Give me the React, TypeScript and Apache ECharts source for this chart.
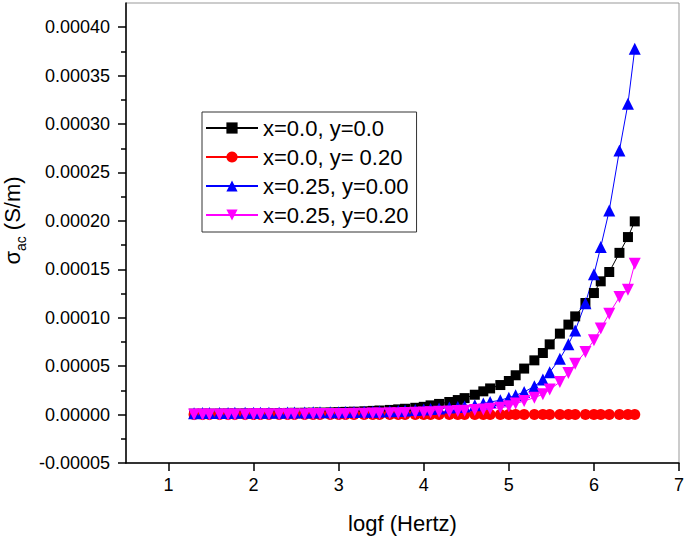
import React, { useEffect, useRef } from 'react';
import * as echarts from 'echarts';

// log10 of measurement frequency (20 Hz ... 3 MHz)
const logf = [
  1.30, 1.40, 1.48, 1.60, 1.70, 1.78, 1.90,
  2.00, 2.08, 2.18, 2.30, 2.40, 2.48, 2.60, 2.70, 2.78, 2.90,
  3.00, 3.08, 3.18, 3.30, 3.40, 3.48, 3.60, 3.70, 3.78, 3.90,
  4.00, 4.08, 4.18, 4.30, 4.40, 4.48, 4.60, 4.70, 4.78, 4.90,
  5.00, 5.08, 5.18, 5.30, 5.40, 5.48, 5.60, 5.70, 5.78, 5.90,
  6.00, 6.08, 6.18, 6.30, 6.40, 6.48,
];

const seriesNames = ['x=0.0, y=0.0', 'x=0.0, y= 0.20', 'x=0.25, y=0.00', 'x=0.25, y=0.20'];

const sigmaA = [
  0.9e-6, 1.0e-6, 1.0e-6, 1.1e-6, 1.2e-6, 1.2e-6, 1.3e-6,
  1.4e-6, 1.4e-6, 1.5e-6, 1.6e-6, 1.7e-6, 1.8e-6, 1.9e-6, 2.0e-6, 2.1e-6, 2.3e-6,
  2.5e-6, 2.8e-6, 3.0e-6, 3.4e-6, 3.8e-6, 4.2e-6, 4.8e-6, 5.4e-6, 6.0e-6, 7.0e-6,
  8.0e-6, 9.5e-6, 11.0e-6, 13.0e-6, 15.0e-6, 17.0e-6, 20.5e-6, 24.0e-6, 27.0e-6, 30.5e-6,
  34.7e-6, 40.6e-6, 47.5e-6, 56.0e-6, 63.6e-6, 72.5e-6, 83.6e-6, 92.9e-6, 101.4e-6, 115.2e-6,
  125.5e-6, 137.6e-6, 147.2e-6, 167.0e-6, 183.3e-6, 199.5e-6,
];

const sigmaB = [
  0.1e-6, 0.1e-6, 0.1e-6, 0.1e-6, 0.1e-6, 0.1e-6, 0.1e-6,
  0.1e-6, 0.1e-6, 0.1e-6, 0.1e-6, 0.1e-6, 0.1e-6, 0.1e-6, 0.1e-6, 0.1e-6, 0.1e-6,
  0.1e-6, 0.1e-6, 0.1e-6, 0.1e-6, 0.1e-6, 0.1e-6, 0.1e-6, 0.1e-6, 0.1e-6, 0.1e-6,
  0.1e-6, 0.1e-6, 0.1e-6, 0.1e-6, 0.1e-6, 0.1e-6, 0.1e-6, 0.1e-6, 0.1e-6, 0.1e-6,
  0.1e-6, 0.1e-6, 0.1e-6, 0.1e-6, 0.1e-6, 0.1e-6, 0.1e-6, 0.1e-6, 0.1e-6, 0.1e-6,
  0.1e-6, 0.1e-6, 0.1e-6, 0.1e-6, 0.1e-6, 0.1e-6,
];

const sigmaC = [
  1.5e-6, 1.6e-6, 1.6e-6, 1.7e-6, 1.7e-6, 1.8e-6, 1.8e-6,
  1.9e-6, 1.9e-6, 2.0e-6, 2.0e-6, 2.1e-6, 2.1e-6, 2.2e-6, 2.3e-6, 2.3e-6, 2.4e-6,
  2.5e-6, 2.6e-6, 2.7e-6, 2.9e-6, 3.0e-6, 3.2e-6, 3.5e-6, 3.8e-6, 4.1e-6, 4.6e-6,
  5.2e-6, 5.8e-6, 6.4e-6, 7.2e-6, 7.8e-6, 8.4e-6, 9.6e-6, 11.4e-6, 13.0e-6, 14.8e-6,
  17.5e-6, 19.9e-6, 23.3e-6, 29.2e-6, 36.1e-6, 43.7e-6, 57.7e-6, 72.5e-6, 86.8e-6, 115.0e-6,
  144.8e-6, 173.0e-6, 210.8e-6, 272.7e-6, 321.0e-6, 377.7e-6,
];

const sigmaD = [
  0.1e-6, 0.1e-6, 0.1e-6, 0.2e-6, 0.2e-6, 0.2e-6, 0.2e-6,
  0.3e-6, 0.3e-6, 0.3e-6, 0.3e-6, 0.4e-6, 0.4e-6, 0.4e-6, 0.5e-6, 0.5e-6, 0.5e-6,
  0.6e-6, 0.7e-6, 0.8e-6, 0.9e-6, 1.0e-6, 1.1e-6, 1.3e-6, 1.5e-6, 1.7e-6, 2.0e-6,
  2.2e-6, 2.5e-6, 2.8e-6, 3.2e-6, 3.6e-6, 4.0e-6, 4.6e-6, 5.2e-6, 6.0e-6, 7.0e-6,
  8.6e-6, 11.4e-6, 14.0e-6, 17.5e-6, 20.9e-6, 25.8e-6, 33.6e-6, 42.9e-6, 52.6e-6, 64.6e-6,
  76.7e-6, 88.8e-6, 104.2e-6, 121.4e-6, 129.0e-6, 155.8e-6,
];

const xTicks = [1, 2, 3, 4, 5, 6, 7];
const xMinorTicks = [1.5, 2.5, 3.5, 4.5, 5.5, 6.5];
const yTicks = [-0.00005, 0, 0.00005, 0.0001, 0.00015, 0.0002, 0.00025, 0.0003, 0.00035, 0.0004];
const yMinorTicks = [-0.000025, 0.000025, 0.000075, 0.000125, 0.000175, 0.000225, 0.000275, 0.000325, 0.000375];

const FONT = '"Liberation Sans", Arial, Helvetica, sans-serif';

export default function App() {
  const ref = useRef<HTMLDivElement>(null);
  useEffect(() => {
    if (!ref.current) return;
    const chart = echarts.init(ref.current, undefined, { renderer: 'svg' });
    const mk = (name: string, vals: number[], color: string, symbol: string, size: number, rotate = 0) => ({
      name,
      type: 'line',
      xAxisIndex: 0,
      yAxisIndex: 0,
      data: logf.map((x, i) => [x, vals[i]]),
      symbol,
      symbolSize: size,
      symbolRotate: rotate,
      showAllSymbol: true,
      lineStyle: { color, width: 1 },
      itemStyle: { color },
      emphasis: { disabled: true },
    });
    chart.setOption({
      animation: false,
      textStyle: { fontFamily: FONT },
      grid: {
        left: 126, top: 3, right: 6, bottom: 75,
        containLabel: false,
        outerBoundsMode: 'none',
        show: true, borderColor: '#999', borderWidth: 1, backgroundColor: 'transparent',
      },
      legend: {
        left: 202, top: 112,
        orient: 'vertical',
        borderColor: '#333', borderWidth: 1,
        padding: [5, 8, 6, 3],
        itemGap: 7,
        itemWidth: 52,
        itemHeight: 14,
        textStyle: { fontSize: 22, lineHeight: 22, color: '#000', fontFamily: FONT },
        data: seriesNames,
      },
      xAxis: [
        {
          type: 'value', min: 0.5, max: 7,
          name: 'logf (Hertz)', nameLocation: 'middle', nameGap: 49,
          nameTextStyle: { fontSize: 22, color: '#000', fontFamily: FONT },
          axisLine: { show: true, onZero: false, lineStyle: { color: '#000', width: 1.5 } },
          axisTick: { show: true, customValues: xTicks, length: 8, lineStyle: { color: '#000', width: 1.5 } },
          axisLabel: { customValues: xTicks, fontSize: 18, color: '#000', margin: 13, fontFamily: FONT },
          splitLine: { show: false },
        },
        {
          type: 'value', min: 0.5, max: 7, position: 'bottom',
          axisLine: { show: false },
          axisTick: { show: true, customValues: xMinorTicks, length: 4, lineStyle: { color: '#000', width: 1.5 } },
          axisLabel: { show: false },
          splitLine: { show: false },
        },
      ],
      yAxis: [
        {
          type: 'value', min: -0.00005, max: 0.000425,
          name: '{s|σ}{sub|ac}{s| (S/m)}', nameLocation: 'middle', nameGap: 93,
          nameTextStyle: {
            color: '#000',
            padding: [0, 0, 0, 25],
            rich: {
              s: { fontSize: 22, lineHeight: 24, verticalAlign: 'top', fontFamily: FONT, color: '#000' },
              sub: { fontSize: 14, lineHeight: 14, padding: [13, 0, 0, 0], verticalAlign: 'top', fontFamily: FONT, color: '#000' },
            },
          },
          axisLine: { show: true, onZero: false, lineStyle: { color: '#000', width: 1.5 } },
          axisTick: { show: true, customValues: yTicks, length: 8, lineStyle: { color: '#000', width: 1.5 } },
          axisLabel: {
            customValues: yTicks, fontSize: 18, color: '#000', margin: 16, fontFamily: FONT,
            formatter: (v: number) => v.toFixed(5),
          },
          splitLine: { show: false },
        },
        {
          type: 'value', min: -0.00005, max: 0.000425, position: 'left',
          axisLine: { show: false },
          axisTick: { show: true, customValues: yMinorTicks, length: 5, lineStyle: { color: '#000', width: 1.5 } },
          axisLabel: { show: false },
          splitLine: { show: false },
        },
      ],
      series: [
        mk(seriesNames[0], sigmaA, '#000000', 'rect', 10),
        mk(seriesNames[1], sigmaB, '#ff0000', 'circle', 11),
        mk(seriesNames[2], sigmaC, '#0000ff', 'triangle', 12),
        mk(seriesNames[3], sigmaD, '#ff00ff', 'triangle', 12, 180),
      ],
    });
    return () => chart.dispose();
  }, []);
  return <div ref={ref} style={{ position: 'fixed', left: 0, top: 0, width: 685, height: 538, background: '#fff' }} />;
}
